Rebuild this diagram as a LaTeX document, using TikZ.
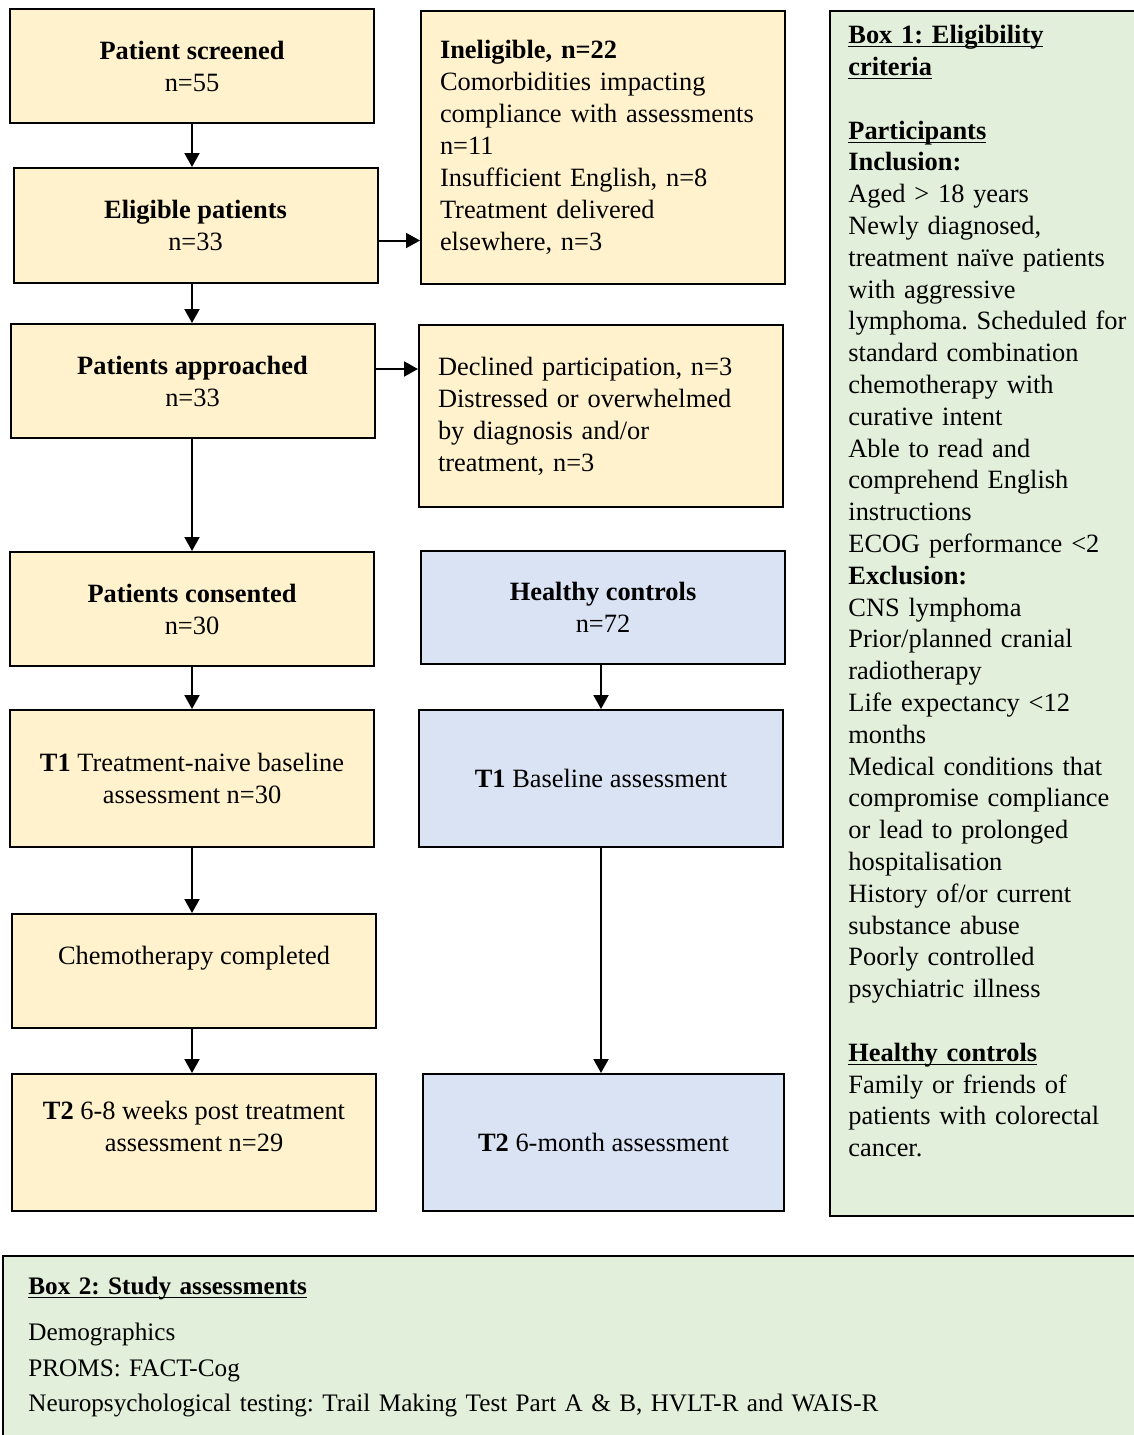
\documentclass[tikz,border=0pt]{standalone}
\usepackage{fontspec}
\setmainfont{Liberation Serif}
\usepackage{tikz}
\usetikzlibrary{arrows.meta}
\frenchspacing

\definecolor{patfill}{HTML}{FFF2CC}
\definecolor{ctlfill}{HTML}{DAE3F3}
\definecolor{critfill}{HTML}{E2EFDA}

\newcommand{\boxhead}[1]{\underline{\smash{\textbf{#1}}}\vphantom{\textbf{#1}}}

\tikzset{
  flowbox/.style={draw, line width=1pt, fill=patfill, inner sep=0pt, minimum width=182pt, align=center,
    font=\fontsize{13.2}{16}\selectfont},
  ctlbox/.style={flowbox, fill=ctlfill},
  listbox/.style={flowbox, align=left, text width=163pt},
  flowarrow/.style={line width=1pt, -{Triangle[length=7pt,width=7.5pt]}},
}

\begin{document}
\begin{tikzpicture}[x=0.5pt,y=0.5pt,yscale=-1,xscale=1]
\useasboundingbox (0,0) rectangle (1134,1435);
\clip (0,0) rectangle (1134,1435);

%Patients column
\node[flowbox, minimum height=57pt] (screened) at (192,66) {\textbf{Patient screened}\\n=55};
\node[flowbox, minimum height=57.5pt] (eligible) at (195.5,225.5) {\textbf{Eligible patients}\\n=33};
\node[flowbox, minimum height=57pt] (approached) at (192.5,381) {\textbf{Patients approached}\\n=33};
\node[flowbox, minimum height=57pt] (consented) at (192,609) {\textbf{Patients consented}\\n=30};
\node[flowbox, minimum height=68.5pt] (tonepat) at (192,778.5) {\textbf{T1} Treatment-naive baseline\\assessment n=30};
\node[flowbox, minimum height=57pt] (chemo) at (194,971) {Chemotherapy completed\\ \mbox{}};
\node[flowbox, minimum height=68.5pt] (ttwopat) at (194,1142.5) {\textbf{T2} 6-8 weeks post treatment\\assessment n=29\\ \mbox{}};

%Exclusions
\node[listbox, minimum height=136.5pt] (ineligible) at (603,147.5) {\textbf{Ineligible, n=22}\\Comorbidities impacting\\compliance with assessments\\n=11\\Insufficient English, n=8\\Treatment delivered\\elsewhere, n=3};
\node[listbox, minimum height=91pt] (declined) at (601,416) {Declined participation, n=3\\Distressed or overwhelmed\\by diagnosis and/or\\treatment, n=3};

%Controls column
\node[ctlbox, minimum height=56.5pt] (controls) at (603,607.5) {\textbf{Healthy controls}\\n=72};
\node[ctlbox, minimum height=68.5pt] (tonectl) at (601,778.5) {\textbf{T1} Baseline assessment};
\node[ctlbox, minimum width=180.5pt, minimum height=68.5pt] (ttwoctl) at (603.5,1142.5) {\textbf{T2} 6-month assessment};

%Arrows
\draw[flowarrow] (screened.south) -- (screened.south |- eligible.north);
\draw[flowarrow] ([yshift=7.5pt]eligible.east) -- ([yshift=7.5pt]eligible.east -| ineligible.west);
\draw[flowarrow] (eligible.south -| screened.south) -- (approached.north -| screened.south);
\draw[flowarrow] ([yshift=-6pt]approached.east) -- ([yshift=-6pt]approached.east -| declined.west);
\draw[flowarrow] (approached.south -| screened.south) -- (consented.north -| screened.south);
\draw[flowarrow] (consented.south -| screened.south) -- (tonepat.north -| screened.south);
\draw[flowarrow] (tonepat.south -| screened.south) -- (chemo.north -| screened.south);
\draw[flowarrow] (chemo.south -| screened.south) -- (ttwopat.north -| screened.south);
\draw[flowarrow] (controls.south -| tonectl.north) -- (tonectl.north);
\draw[flowarrow] (tonectl.south) -- (tonectl.south |- ttwoctl.north);

%Box 1
\draw[line width=1pt, fill=critfill] (830,11) rectangle (1150,1216);
\node[anchor=north west, inner sep=0pt, text width=150pt, align=left, font=\fontsize{13.2}{15.9}\selectfont] (criteria) at (848,25)
  {\boxhead{Box 1: Eligibility}\\\boxhead{criteria}\\[15.9pt]
   \boxhead{Participants}\\\textbf{Inclusion:}\\Aged > 18 years\\Newly diagnosed,\\treatment naïve patients\\with aggressive\\lymphoma. Scheduled for\\standard combination\\chemotherapy with\\curative intent\\Able to read and\\comprehend English\\instructions\\ECOG performance <2\\
   \textbf{Exclusion:}\\CNS lymphoma\\Prior/planned cranial\\radiotherapy\\Life expectancy <12\\months\\Medical conditions that\\compromise compliance\\or lead to prolonged\\hospitalisation\\History of/or current\\substance abuse\\Poorly controlled\\psychiatric illness\\[15.9pt]
   \boxhead{Healthy controls}\\Family or friends of\\patients with colorectal\\cancer.};

%Box 2
\draw[line width=1pt, fill=critfill] (3,1256) rectangle (1150,1460);
\node[anchor=north west, inner sep=0pt, text width=540pt, align=left, font=\fontsize{12.6}{17.75}\selectfont] (assessments) at (28,1277)
  {\boxhead{Box 2: Study assessments}\\[5.25pt]Demographics\\PROMS: FACT-Cog\\Neuropsychological testing: Trail Making Test Part A \& B, HVLT-R and WAIS-R};

\end{tikzpicture}
\end{document}
